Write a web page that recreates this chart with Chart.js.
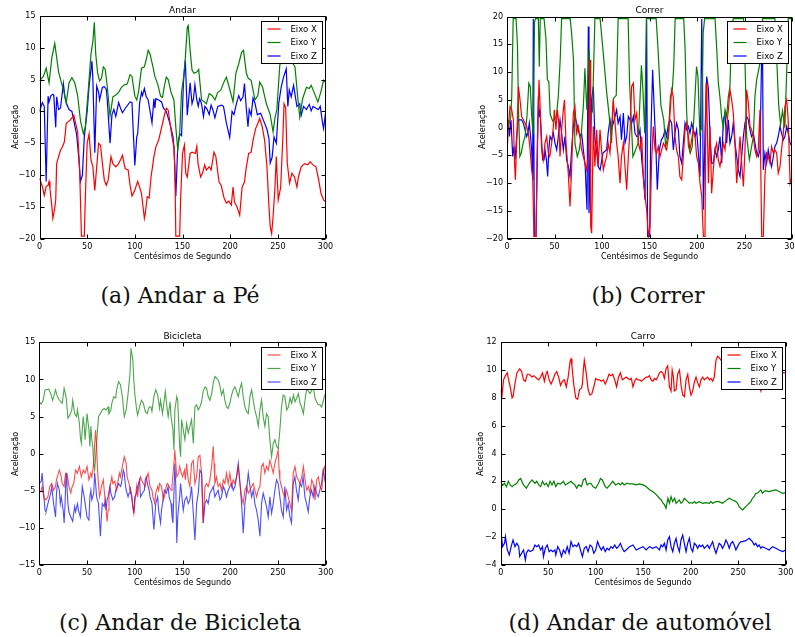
<!DOCTYPE html>
<html>
<head>
<meta charset="utf-8">
<script src="https://cdn.jsdelivr.net/npm/chart.js@4.4.1/dist/chart.umd.min.js"></script>
<style>
    body{ margin:0; width:795px; height:637px; overflow:hidden; background:#fff; position:relative; font-family:"DejaVu Sans",sans-serif; }
    canvas{ position:absolute; }
    .txt{ position:absolute; transform:translate(-50%,-50%); white-space:nowrap; color:#000; }
    .tit{ font-size:9px; }
    .eixo{ font-size:8px; }
    .rot{ font-size:8px; transform:translate(-50%,-50%) rotate(-90deg); }
    .leg{ font-family:"DejaVu Serif",serif; font-size:22px; color:#111; }
</style>
</head>
<body>
<canvas id="g_andar" width="345" height="270" style="left:0;top:0"></canvas>
<canvas id="g_correr" width="350" height="270" style="left:460px;top:0"></canvas>
<canvas id="g_bici" width="345" height="260" style="left:0;top:330px"></canvas>
<canvas id="g_carro" width="345" height="260" style="left:460px;top:330px"></canvas>

<div class="txt tit" style="left:182.5px;top:10px">Andar</div>
<div class="txt tit" style="left:649.5px;top:10px">Correr</div>
<div class="txt tit" style="left:182.5px;top:336px">Bicicleta</div>
<div class="txt tit" style="left:643px;top:336px">Carro</div>

<div class="txt eixo" style="left:182.5px;top:256px">Centésimos de Segundo</div>
<div class="txt eixo" style="left:649.5px;top:256px">Centésimos de Segundo</div>
<div class="txt eixo" style="left:182.5px;top:582px">Centésimos de Segundo</div>
<div class="txt eixo" style="left:643px;top:582px">Centésimos de Segundo</div>

<div class="txt rot" style="left:15px;top:127px">Aceleração</div>
<div class="txt rot" style="left:482px;top:127px">Aceleração</div>
<div class="txt rot" style="left:15px;top:454px">Aceleração</div>
<div class="txt rot" style="left:480px;top:454px">Aceleração</div>

<div class="txt leg" style="left:180px;top:295px">(a) Andar a Pé</div>
<div class="txt leg" style="left:648px;top:295px">(b) Correr</div>
<div class="txt leg" style="left:180px;top:622px">(c) Andar de Bicicleta</div>
<div class="txt leg" style="left:640px;top:622px">(d) Andar de automóvel</div>

<script>
// series: [centésimos, aceleração]
const nomes = ["Eixo X", "Eixo Y", "Eixo Z"];
const ticks_x = [0, 50, 100, 150, 200, 250, 300];

// ---- andar a pé
const andar_x = [[0,-10.5],[3,-11.8],[5,-13.2],[7,-11.8],[9,-11.6],[10,-11],[11,-12.2],[13,-15],[14,-16.8],[16,-15.2],[17,-13.9],[18,-8.2],[20,-7.1],[22,-6.1],[24,-5.6],[26,-4.8],[27,-3.5],[28,-1.9],[30,-1.6],[32,-1.4],[34,-1],[36,-0.6],[38,-1.9],[40,-3.2],[42,-8.7],[44,-19.6],[47,-19.6],[48,-13.9],[50,-5],[52,-3.5],[54,-7.6],[56,-8.7],[58,-12.4],[60,-8.7],[62,-5],[64,-5.3],[66,-8.2],[68,-10.8],[70,-11.6],[72,-10.8],[75,-7.1],[77,-8.2],[80,-8.7],[83,-8.2],[85,-7.6],[87,-6.9],[89,-8.4],[90,-9],[93,-9.2],[95,-11.6],[97,-13.3],[100,-12.4],[101,-11.9],[103,-11],[105,-11.9],[107,-12.9],[110,-16.8],[111,-16],[113,-13.4],[115,-13.6],[117,-10.3],[119,-8.2],[120,-7.1],[122,-5.6],[125,-4.5],[127,-3.2],[129,-1.9],[131,-0.6],[133,0.5],[135,0.2],[137,-1.9],[139,-4],[141,-5.6],[142,-8.7],[143,-19.6],[147,-19.6],[148,-13.9],[150,-6.6],[152,-5.3],[153.4,-9.7],[155,-10.3],[158,-6.6],[160,-6.4],[163.5,-6.6],[165,-5.5],[166.3,-8.2],[169,-10.3],[171,-9.7],[173.3,-8.4],[175,-9.2],[178,-8.7],[180,-9.2],[183,-6.4],[185,-7.1],[188.3,-11.1],[190.5,-11.6],[193.6,-13.6],[196,-14.4],[198.5,-14.1],[201.2,-14.7],[203,-11.9],[204.5,-14.2],[207.2,-15],[210,-16.3],[212.5,-11.9],[215,-11.1],[216.7,-9],[219.4,-6.6],[222,-6.4],[224,-4.5],[226.7,-2.7],[229,-1.9],[231,-1.1],[233.6,-2.4],[236.1,-4.5],[238.6,-8.7],[240.7,-15],[242,-18.1],[243.5,-19.2],[245,-16.6],[247,-11.9],[248.4,-7.1],[250.4,-13.9],[253,-11.9],[255.4,-3.5],[256.5,1.2],[258.2,0.6],[259.9,-8.1],[262.3,-11.3],[264.8,-9.7],[267.5,-10.3],[270,-11.9],[271.6,-10.3],[274.5,-8.7],[278,-8.2],[281.5,-8.4],[283.9,-7.9],[286.8,-8.4],[290,-8.7],[292.9,-10.8],[295.3,-12.9],[298,-13.9],[300,-14.2]];
const andar_y = [[0,4.8],[4,5.5],[7,6.8],[10,4.5],[13,8.5],[16,10.7],[18,8.5],[20,6.2],[23,4.5],[25,3.5],[28,1.3],[31,4.5],[34,5.3],[37,4.5],[40,2.5],[43,-1.5],[46,-3.5],[48,-2.5],[51,3],[54,9],[56,11],[57.5,14],[59,9],[61,6],[63,4.8],[65,5.2],[67,7],[69,6.6],[71,4],[74,-0.7],[77,2.3],[80,2.6],[83,3],[86,3.8],[89,4.2],[92,4.3],[95,5.8],[97,5.5],[100,2.4],[102,1.8],[104,3.2],[107,6.8],[110,7],[112,8.2],[114,9.6],[116,9],[119,7],[121,5.5],[124,4.3],[127,2.4],[129,2.2],[131,4],[133,5.4],[135,5],[138,3],[141,1.8],[143,-2.5],[145,-6],[147,-3.6],[149,3],[151,5.2],[153,8.5],[155,13.2],[156,13.5],[158,9.6],[160,6.5],[162,6],[165,6.2],[167,6.6],[170,1.8],[173,1.5],[175,1.2],[178,2.8],[181,2.5],[184,1.8],[187,3],[190,3.3],[194,4.8],[196,5.4],[199,3.8],[203,1.5],[206,6],[209,7.5],[212,9.3],[214,9.6],[217,6],[219,5.2],[222,4.9],[226,1.8],[229,2.5],[231,4.6],[234,3.8],[238,1.2],[242,-0.5],[245,-3.2],[247,-1],[249,0.3],[252,7.2],[255,9],[258,9.3],[262,8.5],[266,7.5],[268,7],[271,2],[273,-0.9],[276,2],[280,3.8],[283,3.6],[285,4.1],[288,3],[292,1.5],[295,3],[298,4.9],[300,4.6]];
const andar_z = [[0,0],[3,1.4],[5,0.8],[7,-11],[9,2.4],[10,1.5],[12,2.5],[14,2.7],[15,2.5],[17,-2.5],[18,2.3],[20,0.3],[22,0.5],[25,4.4],[27,2],[29,1],[31,0.3],[34,0],[36,-1.5],[39,-3.7],[41,-7],[43,-11],[45,-10],[47,-4],[50,0],[52,4],[55,7.9],[56,5],[58,-6.5],[60,4],[62,3],[63,1.8],[66,3.8],[68,3.9],[70,3.5],[71,2],[74,-5],[76,-0.5],[78,0.3],[80,-0.8],[83,1.4],[85,0.5],[87,-0.2],[90,0.5],[95,1.5],[97,1.4],[98,-2],[100,-8.5],[102,-4],[103,-3.5],[105,1.3],[107,3],[108,2.5],[110,3.6],[112,2.3],[114,1.8],[116,0],[118,-1.8],[120,2],[121,0.5],[122,2],[125,1.8],[128,1.5],[130,0.5],[133,0],[135,-1],[137,-2],[140,-4],[141,-5.5],[143,-13.3],[145,-5.5],[147,-3.5],[149,-3.8],[151,4.6],[153,8],[155,-0.6],[158,4.5],[160,1.2],[161.5,2],[163,4.2],[165,1.8],[166.5,0.8],[168,2],[170,1.2],[172,-0.8],[173.5,0.8],[176,0.3],[178,-0.5],[180,1],[182,0.2],[184,-1],[187,0.8],[191,1],[193,0.8],[196,-1.8],[199.5,-4.1],[202,0],[204,-0.5],[206.5,1.2],[209,2.5],[211,1.7],[213.5,2.3],[215,4.4],[217,0.3],[218.7,-2.4],[220,0.3],[222,-0.6],[224,2.1],[226,1.3],[228.5,-0.5],[232,-0.3],[236,-1.8],[238.6,-2.8],[240.7,-4.3],[242,-8.1],[244,-7.2],[246,-4],[248.4,-5],[251,1.3],[253.6,3.9],[256,5.4],[258.8,6.7],[260.5,0.8],[262,3.4],[264,2.3],[266.5,4.1],[270,0.8],[273,1.2],[274.5,-0.6],[277,0.8],[280,0.3],[283,1.1],[285,0.1],[287,0.8],[290,0.5],[292.5,0.3],[294.5,0.8],[297,-1.9],[298,-2.7],[300,-0.2]];

// ---- correr
const correr_x = [[0,-4.6],[1.4,0.2],[3.2,3.8],[5,3.2],[6.7,1.4],[7.7,-5.2],[8.8,-9.4],[10.2,-2.8],[12,7.4],[13.7,5],[15.4,2],[17.2,1.4],[19,0.8],[20.7,0.2],[22.5,-1],[24,-3.4],[26,-7.6],[27,-8.8],[28.4,-19.6],[30.5,-19.6],[32,-2.8],[33.7,8.6],[35,3.2],[36.5,-4],[38.2,-5.8],[40,-2.8],[41.8,-1.6],[43.5,-4.6],[45,-5.2],[47,-2.8],[48.8,0.2],[49.8,3.2],[51.5,-0.4],[53,3.2],[54.5,0.8],[55.8,-5.2],[57.5,-0.4],[59.3,3.2],[60.5,5],[62.1,-2.8],[64.5,-8.2],[66.3,-14.2],[68,-7.6],[69.8,2.6],[71.5,3.8],[73.3,-1],[75,0.2],[76.8,-1.6],[78.5,-4],[80.4,-5.2],[83.8,-7.6],[85.5,-5.2],[87.4,12.2],[88.1,-17.8],[89.1,-19],[90,-8.8],[90.9,0.2],[92.5,-7],[94.4,-0.4],[96,-7],[97.9,-0.4],[99.5,-4],[101.4,-7.6],[103,-6.4],[104.9,-5.2],[106.5,-2.8],[108.4,-4.6],[110,-0.4],[111.9,5],[113.5,1.4],[115.4,-2.8],[117,-5.2],[119,-10],[120.5,-5.2],[122.5,-2.8],[124.2,-7],[126,-11.2],[127.7,-5.2],[129.5,-0.4],[131.2,7.4],[133,8],[134.7,1.4],[136.5,2.6],[138.2,-2.8],[140,-4],[141.8,-1.6],[143.5,-8.8],[145.3,-12.4],[147,-14.8],[148.8,-19.6],[150.5,-17.8],[152.3,-5.8],[154,0.2],[155.8,-4],[157.5,-4.6],[159.3,-3.4],[161,-5.2],[164.6,-2.8],[168,-4],[170,-1.6],[171.6,2.6],[173.3,6.8],[175,5.6],[176.8,-1.6],[178.5,-4],[180.4,-5.2],[182,-8.8],[183.9,-9.4],[185.6,-5.2],[187.4,-0.4],[189,0.8],[190.9,-1.6],[192.6,-4],[196.1,-0.4],[198,-1.6],[199.6,-5.2],[201.4,-6.4],[203.2,-10],[205,-12.4],[206.7,-19.6],[208.4,-19.6],[209.5,8],[210.5,3.2],[212,-10],[213.7,0.2],[215.4,-11.8],[217.2,-7.6],[218.9,-4],[220.7,-2.8],[222.4,-5.8],[224.2,-7],[226,-5.2],[227.7,-2.8],[229.5,-4],[231.2,0.2],[233,3.2],[234.7,6.8],[236.5,5],[238.2,2.6],[240,-2.8],[241.8,-10],[243.5,-6.4],[245.3,-1.6],[247,-6.4],[248.8,-10.6],[250.5,-4],[252.3,6.8],[254,4.4],[255.8,0.2],[257.5,-0.4],[259.3,-1.6],[261,-4],[262.8,-5.2],[264.5,-4],[266.3,3.2],[268.1,-19.6],[269.8,-19.6],[271.5,-8.8],[273.3,-4.6],[275,-5.2],[276.8,-6.4],[278.5,-3.4],[280.4,-4.6],[282,-4],[283.9,-4.6],[285.5,-8.2],[287.4,-7],[289,-4],[290.9,-1],[292.5,3.8],[294.4,5],[296,1.4],[298,-10],[300,-8.8]];
const correr_y = [[0,-1],[2,0.5],[4,2],[5,5.6],[6.5,19.6],[9.5,19.6],[11,15],[12,4],[13.5,-5.2],[15,-4.6],[17,-2.8],[19,-1.6],[21,2],[23,8],[24.5,7.4],[26,2],[27.5,-1.2],[29,19],[30,19.6],[33,19.6],[34,11],[35,19.6],[39,19.6],[41,16],[42.5,8.6],[44,8.3],[45.5,2.4],[48,1.2],[50,1.5],[52,2],[54,5.6],[56,12.2],[57.5,19.6],[66.5,19.6],[68,17],[70,12.2],[71.5,-2.8],[74,-5.2],[76,-4],[78,-1.6],[80.5,4.2],[82,10.7],[84,3.2],[86.5,14],[88,2],[90,3],[92.5,19.6],[98,19.6],[101,14],[105,6.2],[108,1.4],[110,-2.8],[112,5.2],[115,5.8],[117,19.6],[127.5,19.6],[129,8.2],[132.5,-5.2],[134,-4.6],[138,-2.8],[141.5,11.2],[143,7],[145,-1],[146.7,19.6],[157,19.6],[159,14],[162,4],[165,1.4],[167,-3.4],[170,-1],[172,5.6],[174,6.8],[175.5,11],[177,19.6],[186,19.6],[187.5,14],[189,3.2],[191,-3.4],[193,-4.6],[195,-3.4],[197,2.6],[199.5,11],[201,9.2],[203,-1],[205,0],[206.5,17],[208,19.6],[219,19.6],[221,13.4],[222.5,8],[224.2,5.4],[226,1.8],[227.7,0],[229.5,3.2],[231.2,2],[233,5.6],[234.7,7.4],[236.5,18.2],[238.2,19.6],[249,19.6],[250.5,12.2],[252.3,-1.6],[255.1,-5.8],[257.5,-3.4],[259.3,-1.6],[261,5.6],[262.8,8.6],[266.3,11.6],[269,19.6],[282,19.6],[284,12],[286,4],[288,0.6],[290,3],[292.5,0],[294.4,10],[296,19.6],[300,19.6]];
const correr_z = [[0,-0.4],[1.2,1.4],[2.5,-1.6],[4.2,1.4],[6,-5.2],[7.2,-3.4],[8.4,-5.8],[10.2,-1.6],[12,1.4],[15.4,1.4],[17.2,0.8],[19,-0.4],[20.7,-1.6],[22,-1],[23.5,0.8],[24.8,-1.6],[26,-4],[27,-9.4],[27.7,19.6],[28.8,-19.6],[30.5,-19.6],[32,-4],[33,5.6],[34,2],[34.7,3.2],[36,-1],[37.5,-5.8],[39,-5.8],[40,-4],[41.5,-5.8],[42.8,-8.8],[44,-4],[45.3,-1.6],[47,-2.2],[48.8,-1],[50.5,-2.8],[52.3,-4],[54,-1.6],[55.8,1.4],[57.5,-1],[59.3,-4],[61,-1.6],[62.8,-5.8],[64.5,-7],[66.3,-8.8],[68,-4],[69.8,0.2],[71.5,2],[73.3,0.8],[75,-0.4],[76.8,-1.6],[78.5,-1],[80.4,-4],[82.3,-7],[84.2,-14.8],[85.6,18.2],[86.3,-15.4],[87.5,-8],[89,5],[90.9,7.4],[92.5,-2],[94.2,-4],[96,-7],[98,-7.6],[101,-4.6],[104.9,-4],[106.5,-1],[108.4,1.4],[110,-0.4],[111.9,0.8],[113.7,2],[115.4,3.2],[117,0.8],[119,2],[120.5,-2.2],[122.5,2.6],[124.2,-2.8],[126,-1.6],[127.7,2],[129.5,1.4],[131.2,0.8],[133,2],[134.7,-1],[136.5,-1.6],[138.2,-1.6],[140,-0.4],[141.8,-5.8],[143.5,-8.8],[145.3,-13],[147,19.4],[148,-19.6],[150.2,-19.6],[151.2,-2.8],[153.3,10.4],[155,3.2],[156.8,-4],[158.2,-11.2],[160.4,-4],[162.5,-2.2],[164.6,-1.6],[166.3,-0.4],[168,-1.6],[169.8,0.5],[171.6,1.4],[173.3,0.8],[175.1,-4],[176.8,-1],[178.5,0.8],[180.4,-0.4],[182,-5.2],[183.9,-6.4],[185.6,-2.8],[187.4,0.8],[189,-0.4],[190.9,0.2],[192.6,-1],[194.4,0.8],[196.1,-0.4],[198,-1.6],[199.6,-0.4],[201.4,-4.6],[203.2,-8.8],[205,19.6],[205.8,9],[206.7,-14.8],[208.4,-1],[210.2,9.2],[212,7],[213.7,-1.6],[215.4,-6.4],[217.2,-6.4],[218.9,-4],[220.7,-5.2],[222.4,-4],[224.2,-1.6],[226,-6.4],[227.7,1.4],[229.5,2.6],[231.2,-2.8],[233,1.4],[234.7,-2.8],[236.5,-1.6],[238.2,0.8],[240,-2.8],[241.8,-5.2],[243.5,-7.6],[245.3,-8.8],[247,-5.2],[248.8,-1.6],[250.5,0.8],[252.3,2],[254,1.4],[255.8,-0.4],[257.5,-1.6],[259.3,-1],[261,-2.8],[262.8,-4.6],[264.5,-5.2],[266.3,-4],[268.1,13.4],[269,13.4],[269.8,-7.6],[271.5,-4.6],[273.3,-6.4],[275,-4],[276.8,-5.8],[278.5,-7],[280.4,-5.2],[282,-3.4],[283.9,-2.8],[285.5,-1.6],[287.4,0.2],[289,-1],[290.9,-2.2],[292.5,-1.6],[294.4,0.2],[296,-1],[298,-2.8],[300,-3.4]];

// ---- bicicleta
const bici_x = [[0,-5.3],[2,-4.9],[3,-4.4],[5,-6],[7,-6.2],[9,-5.8],[11,-4.4],[13,-4],[15,-4.9],[17,-4.4],[18,-3.5],[20,-2.6],[21,-2.2],[23,-3.1],[24,-4],[26,-4.4],[27,-3.1],[28,-2.6],[30,-3.3],[31,-4.4],[33,-5.3],[34,-4.6],[36,-4],[37,-3.1],[38,-2.2],[40,-2.6],[42,-1.7],[44,-3.1],[46,-2.2],[48,-2.6],[50,-1.7],[52,-3.5],[54,-2.6],[55,-3.1],[57,-1.3],[58,1.4],[59,3.2],[60,1],[61,-2.2],[62,-4],[63,-5.8],[64,-5.3],[65,-4.4],[67,-3.5],[68,-4.9],[70,-7.6],[71,-9.1],[72,-7.6],[73,-5.8],[74,-4.4],[76,-3.1],[77,-4],[79,-3.7],[81,-4.9],[82,-4],[84,-2.6],[85,-3.1],[87,-1.7],[89,-0.4],[91,-1.3],[92,-3.1],[94,-4],[96,-5.3],[97,-6.2],[99,-8],[100,-6.7],[102,-4.4],[103,-5.8],[104,-4.4],[106,-3.1],[107,-3.5],[109,-4],[111,-4.4],[112,-3.5],[114,-2.6],[115,-3.5],[116,-4.4],[118,-4.9],[119,-5.8],[121,-6.7],[122,-5.3],[124,-4.4],[125,-4.9],[126,-4],[128,-4.4],[129,-5.3],[130,-6.2],[131,-5.8],[133,-4.4],[134,-4],[136,-4.4],[138,-4.9],[139,-4.4],[141,-1.3],[142,0.5],[143,-1.3],[144,-3.1],[146,-2.6],[147,-1.7],[148,-2.2],[150,-3.1],[152,-2.2],[153,-3.5],[154.3,-1.3],[156,-3.5],[157.7,-4.4],[159.5,-1.3],[161.3,-0.9],[163,-4],[164.8,-3.1],[166.5,-0.4],[168.2,-0.2],[170,-2.6],[171.7,-9.3],[173.5,-4.4],[175.2,-4],[176.9,-4.4],[178.7,-3.5],[180.5,-1.7],[182.2,1],[183,-1.3],[183.9,-4],[185.6,-3.1],[187.4,-4.4],[189.2,-4],[190.9,-4.9],[192.7,-3.5],[194.4,-4],[196.1,-2.6],[197.9,-4],[199.6,-2.6],[201.4,-4.4],[203.1,-3.5],[204.9,-4],[206.6,-3.1],[208.4,-1.7],[210.2,-4],[211.9,-5.8],[213.6,-6.7],[215.4,-4.9],[217.1,-4.4],[218.9,-5.3],[220.7,-4.9],[222.4,-4.4],[224.1,-4],[225.8,-4.9],[227.6,-5.8],[229.3,-4.9],[231.1,-4.4],[232.8,-1.7],[234.5,-1.3],[236.3,-2.6],[238,-1.7],[239.8,-2.2],[241.5,-0.9],[243.3,-1.7],[245,-2.6],[246.8,-1.3],[248.5,-0.4],[250.2,0.5],[251.2,-2.2],[252,-3.5],[253.7,-4.4],[255.5,-5.3],[257.2,-5.8],[259,-4.9],[260.7,-5.8],[262.5,-6.7],[264.2,-7.6],[266,-2.6],[267.8,-1.7],[269.6,-3.1],[271.3,-3.5],[273.1,-4],[274.9,-3.1],[276.6,-1.7],[278.4,-3.5],[280.1,-4.9],[281.9,-4.4],[283.6,-5.3],[285.3,-3.5],[287,-4],[288.8,-6.2],[290.6,-3.5],[292.3,-3.1],[294,-4.4],[295.8,-4.9],[297.6,-2.2],[299,-1.7],[300,-4]];
const bici_y = [[0,7],[2,6.7],[4,7.2],[6,8.6],[10,8.7],[12,8.1],[14,7.2],[17,8.6],[19,7.7],[21,7.2],[24,6.8],[26,8.8],[28,7.7],[30,4.8],[32,5.2],[34,5.9],[35,7.2],[37,5.4],[39,5],[40,5.9],[42,4.1],[43,2.3],[44,1.4],[46,5],[47,3.7],[48,1.9],[50,5.4],[52,3.2],[53,1],[54,3.7],[55,1.9],[56,1],[57,-1.3],[58,-2.2],[59,-0.4],[60,1.4],[62,5],[63,5.2],[66,5.9],[68,6.1],[70,5.9],[72,6.3],[73,5.4],[75,5.9],[76,6.8],[78,7.7],[80,7.5],[81,8.6],[83,9.7],[85,9.3],[87,7.7],[88,6.3],[89,5],[91,5.9],[93,8.1],[95,10.8],[96,14.2],[98,12.6],[99,9.9],[100,8.1],[102,5.9],[103,5.2],[105,6.3],[107,7.2],[109,6.8],[111,5.7],[113,5.4],[115,6.3],[117,6.3],[118,5.7],[120,7.7],[122,8.6],[124,7.9],[126,6.1],[127,7.2],[129,5.4],[130,6.3],[132,8.4],[134,5.9],[135,5],[137,7],[138,5],[140,3.2],[141,0.5],[142,5.9],[144,7.7],[145,7.2],[146,4.1],[147,1],[148,-0.4],[149,4.6],[150.8,3.2],[152.5,1.9],[154.3,4.1],[156,2.8],[157.7,3.7],[159.5,4.6],[161.3,1.4],[163,6.3],[164.8,6.6],[166.5,5.9],[168.2,6.3],[170,7],[171.7,8.4],[173.5,9],[175.2,8.8],[176.9,7.7],[178.7,7.2],[180.5,8.1],[182.2,9.5],[183.9,10.4],[185.6,10.2],[187.4,9.9],[189,9.3],[190.9,7.9],[192.7,8.6],[194.4,7.2],[196.1,6.3],[197.9,6.1],[199.6,6.8],[201.4,7.9],[203.1,8.6],[204.9,9],[206.6,8.4],[208.4,7.7],[210.2,8.8],[211.9,9.5],[213.6,7.7],[215.4,6.3],[217.1,5.7],[218.9,5.4],[220.7,7.7],[222.4,8.6],[224.1,7.2],[225.8,5.9],[227.6,5],[229.3,3.7],[231.1,5.9],[232.8,7.2],[234.5,5],[236.3,3.7],[238,5.4],[239.8,5],[241.5,1.9],[243.3,-0.4],[245,1.4],[246.8,1.9],[248.5,1],[250.2,0.7],[252,3.2],[253.7,6.3],[255.5,7.9],[257.2,7.7],[259.2,5.9],[260.9,6.3],[262.7,7.5],[264.4,6.8],[266.2,7.9],[267.9,7],[269.6,7.5],[271.4,8.1],[273.1,6.8],[274.8,6.3],[276.6,5.4],[278.3,7.2],[280.1,8.8],[281.9,8.4],[283.6,8.1],[285.3,8.5],[287,9],[288.8,7.5],[290.4,7],[292.1,6.6],[294,6.6],[295.6,6.3],[297.3,7],[299,7.9],[300,7.8]];
const bici_z = [[0,-4],[2,-3.7],[3,-2.6],[4,-4.4],[6,-7.6],[7,-7.8],[9,-6.7],[10,-6.2],[12,-5.3],[13,-4.4],[15,-6.7],[17,-8.5],[18,-5.3],[19,-4],[21,-4.9],[22,-6.7],[23,-5.8],[25,-7.6],[26,-9.3],[27,-6.7],[28,-2.6],[29,-4.4],[30,-6.7],[31,-7.8],[33,-8.5],[35,-9.1],[36,-8],[37,-7.1],[38,-7.8],[40,-6.7],[41,-7.6],[43,-8.5],[45,-4.4],[47,-5.8],[48,-6.7],[50,-8.5],[52,-8.9],[53,-5.8],[54,-4.9],[55,-6.2],[57,-5.3],[58,-2.6],[59,-4],[60,-5.8],[62,-6.7],[64,-11.1],[65,-8.5],[66,-6.7],[68,-7.1],[69,-6.2],[70,-7.6],[71,-6.2],[72,-5.8],[74,-4.4],[75,-5.3],[77,-6.2],[79,-5.8],[80,-4.9],[82,-4.4],[83,-4],[85,-4.4],[86,-4],[88,-2.2],[89,-2.6],[90,-4],[91,-4.9],[93,-5.8],[94,-5.3],[95,-4.4],[97,-5.8],[98,-7.1],[99,-8],[100,-5.8],[102,-5.3],[103,-4.4],[105,-3.5],[106,-5.8],[108,-5.3],[110,-4.9],[111,-3.5],[112,-3.1],[114,-4.4],[115,-4.9],[116,-5.8],[118,-6.7],[120,-10.2],[121,-8.5],[122,-6.7],[124,-5.8],[125,-7.6],[127,-9.3],[128,-7.6],[130,-5.8],[131,-4.9],[133,-5.3],[135,-4.4],[136,-5.8],[138,-6.7],[139,-8.5],[140,-9.3],[141,-5.3],[142,-1.3],[143,-4.4],[144,-12],[145,-8.5],[147,-5.8],[148,-4],[150.8,-7.6],[152.5,-6.2],[154.3,-5.8],[156,-6.7],[157.7,-6.2],[159.5,-4.4],[161.3,-8],[163,-11.6],[164.8,-6.7],[166.5,-5.3],[168.2,-2.2],[170,-2.6],[171.7,-9.3],[173.5,-6.7],[175.2,-6.2],[176.9,-6.7],[178.7,-5.3],[180.5,-4.9],[182.2,-4.4],[183.9,-5.8],[185.6,-5.3],[187.4,-4.9],[189.2,-6.2],[190.9,-5.8],[192.7,-4.4],[194.4,-4.9],[196.1,-5.8],[197.9,-4.9],[199.6,-4.4],[201.4,-4],[203.1,-4.9],[204.9,-4.4],[206.6,-3.1],[208.4,-1.3],[210.2,-4],[211.9,-6.7],[213.6,-10.7],[215.4,-6.7],[217.1,-4.9],[218.9,-2.6],[220.7,-4.4],[222.4,-5.8],[224.1,-4.9],[225.8,-6.7],[227.6,-7.6],[229.3,-8.9],[231.1,-11.1],[232.8,-6.7],[234.5,-5.3],[236.3,-6.2],[238,-7.1],[239.8,-8.5],[241.5,-5.8],[243.3,-8],[245,-6.7],[246.8,-4.9],[248.5,-3.5],[250.2,-4],[252,-5.8],[253.7,-7.6],[255.5,-8.5],[257.2,-4.4],[259,-7.6],[260.7,-6.7],[262.5,-8.5],[264.2,-9.3],[266,-4],[267.7,-3.1],[269.4,-4.9],[271.2,-6.2],[272.9,-4],[274.7,-4.4],[276.4,-3.1],[278.2,-5.8],[279.9,-6.7],[281.7,-7.8],[283.4,-5.8],[285.2,-4.9],[286.9,-5.8],[288.7,-4.4],[290.4,-5.3],[292.1,-5.8],[293.9,-4.9],[295.6,-4],[297.3,-2.2],[299,-3.5],[300,-4]];

// ---- carro
const carro_x = [[0,8.6],[1,7.9],[3,9.3],[5,9.6],[7,9.8],[8,9.4],[10,8.8],[12,8],[13,8.1],[15,9],[17,9.8],[20,10.1],[22,9.9],[24,9.3],[26,9.2],[28,9.7],[30,9.7],[33,9.5],[35,9.6],[38,9.4],[40,9.3],[42,9.5],[44,9.8],[46,9.2],[48,9.8],[49,9.9],[51,9.3],[53,9],[55,9.3],[57,9.7],[59,9.9],[61,9.5],[63,8.9],[65,9.2],[67,9.3],[69,8.8],[71,9.5],[73,10.6],[74,10.8],[75,10.3],[77,8.9],[79,8],[81,7.9],[83,8.6],[85,8.7],[86,9],[87,10],[88,10.7],[90,9.8],[92,8.6],[94,8.2],[96,8.3],[98,8.8],[100,9.4],[102,9.3],[104,9.3],[106,9.2],[108,9.3],[110,9],[112,9.3],[114,9.7],[116,9.6],[118,9.7],[120,9.3],[122,8.8],[124,9.5],[126,9.8],[128,9.3],[130,9.4],[132,9.5],[134,9.4],[135.7,9.3],[137.5,9.4],[139.2,8.8],[141,9.2],[142.7,9.4],[144.4,9.3],[146.2,9.3],[148,9.2],[149.7,9.3],[151.4,9.4],[153.1,9.5],[154.9,9.5],[156.6,9.6],[158.3,9.3],[160.1,9.2],[161.8,9.4],[163.6,9.3],[165.3,9.5],[167.1,9.8],[168.8,9.9],[170.6,9.8],[172.3,9.4],[174.1,10.1],[175.8,10.3],[177.6,8.8],[179.3,8.5],[180.5,10],[181.8,9.5],[182.8,8.5],[184.6,8.6],[186.3,9.7],[188.2,10],[189.9,8.9],[191.6,8.2],[193.4,8.1],[195.1,9.3],[196.9,9.7],[198.6,8.8],[200.3,8.2],[202.1,8.5],[203.8,9.1],[205.6,9.5],[207.3,9.1],[209.1,8.8],[210.8,9.3],[212.6,9.5],[214.3,9.3],[216.1,9.4],[217.8,9.5],[219.6,9.3],[221.3,9.4],[223.1,9.2],[224.8,9.5],[226.6,10.7],[228.3,11],[230,10.9],[232,10.7],[236,10.8],[240,10.2],[245,9.8],[250,10.3],[255,9.9],[260,10.2],[265,9.6],[270,9.4],[273.9,8.5],[276,9.2],[280,9.6],[285,9.8],[290,9.5],[295,9.9],[298,9.8],[300,9.8]];
const carro_y = [[0,2],[2,1.7],[4,1.86],[6,1.6],[8,2],[10,1.74],[12,1.62],[14,1.74],[17,1.86],[19,2.1],[21,2.2],[24,1.74],[27,1.5],[30,1.86],[33,2.1],[36,1.86],[38,2],[40,1.74],[42,1.62],[44,2],[46,1.74],[48,1.86],[50,1.62],[52,2],[54,1.74],[56,2],[58,1.62],[60,1.86],[63,1.8],[66,2],[68,1.74],[71,1.86],[74,2],[76,1.86],[78,1.74],[80,1.5],[82,1.74],[85,1.62],[87,2.1],[89,2.2],[91,1.74],[93,1.86],[95,1.86],[97,1.62],[100,1.5],[103,1.86],[105,2.2],[107,2.1],[110,1.62],[112,1.5],[115,1.74],[118,2],[121,1.74],[124,1.86],[126,1.74],[128,1.9],[130,1.74],[133,1.86],[135,1.81],[139,1.81],[142.5,1.74],[146,1.81],[150,1.74],[153,1.62],[157,1.38],[160,1.26],[164,1.02],[167,0.78],[169,0.66],[171,0.42],[172.5,0.3],[174,0.06],[176,0.78],[177.6,0.42],[179.3,0.9],[181,0.54],[183,0.78],[184.6,0.42],[186.3,0.54],[188,0.66],[189.9,0.42],[191.6,0.54],[193.4,0.78],[195,0.66],[197,0.54],[198.6,0.42],[200.3,0.47],[202,0.42],[204,0.54],[205.6,0.42],[209,0.54],[212.6,0.42],[216,0.47],[219.6,0.42],[221.3,0.54],[223,0.42],[226.6,0.54],[230,0.54],[233.5,0.42],[237,0.61],[240.6,0.78],[244,0.66],[247.6,0.54],[249.3,0.42],[251,0.18],[252.8,0.06],[254.5,-0.06],[256.3,0.06],[258,0.18],[259.8,0.3],[261.5,0.42],[263.3,0.54],[265,0.78],[266.8,0.9],[268.5,1.14],[270.3,1.14],[272,1.26],[273.8,1.38],[275.5,1.14],[277.3,1.26],[279,1.33],[282.5,1.26],[286,1.33],[289.7,1.38],[293,1.26],[296.8,1.14],[300,1.18]];
const carro_z = [[0,-1.98],[1,-2.1],[2,-2.7],[4,-2.46],[5,-1.98],[7,-2.94],[9,-3.3],[11,-2.7],[13,-2.22],[15,-2.7],[17,-2.46],[19,-2.7],[20,-3.42],[22,-3.18],[24,-2.94],[26,-3.66],[27,-3.18],[29,-2.94],[31,-3.06],[34,-2.94],[36,-2.58],[38,-2.7],[40,-2.58],[42,-2.94],[44,-2.7],[45,-3.42],[47,-2.82],[49,-2.58],[51,-3.06],[53,-2.94],[55,-3.06],[57,-2.94],[58,-3.3],[60,-2.7],[62,-2.94],[64,-3.42],[66,-2.94],[68,-3.18],[70,-2.7],[72,-3.18],[74,-2.34],[76,-2.7],[78,-2.58],[80,-2.7],[82,-2.46],[84,-2.94],[86,-3.42],[88,-2.82],[90,-2.7],[92,-3.06],[94,-2.58],[96,-2.7],[98,-3.18],[100,-2.94],[102,-2.34],[104,-2.7],[106,-2.94],[108,-2.7],[110,-3.06],[112,-2.82],[114,-2.94],[116,-2.7],[118,-2.82],[120,-2.58],[122,-2.82],[124,-2.7],[126,-2.46],[128,-2.82],[130,-3.06],[132,-2.94],[135.7,-2.7],[139.2,-2.58],[142.7,-2.94],[146.2,-2.82],[149.7,-2.7],[153.1,-2.94],[156.6,-2.7],[160.1,-2.82],[163.6,-2.7],[167.1,-2.94],[168.8,-2.58],[170.6,-2.7],[172.3,-2.46],[174.1,-2.94],[175.8,-2.22],[177.6,-1.98],[179.3,-2.7],[181.1,-3.06],[182.8,-2.46],[184.6,-2.1],[186.3,-2.7],[188.1,-3.06],[189.8,-2.22],[191.6,-1.86],[193.3,-2.46],[195.1,-3.06],[196.8,-2.46],[198.6,-2.1],[200.3,-2.82],[202.1,-3.06],[203.8,-2.46],[205.6,-2.58],[207.3,-2.82],[209.1,-2.58],[210.8,-2.7],[212.6,-2.58],[214.3,-2.82],[216.1,-2.7],[217.8,-2.58],[219.6,-2.82],[221.3,-2.58],[223.1,-2.34],[224.8,-2.82],[226.6,-3.18],[228.3,-2.82],[230,-2.46],[231.8,-2.58],[233.5,-2.82],[235.3,-2.58],[237,-2.22],[238.8,-2.46],[240.6,-2.82],[242.3,-2.46],[244.1,-2.34],[245.8,-2.58],[247.6,-2.94],[249.3,-2.7],[251.1,-2.46],[252.8,-2.34],[254.5,-2.34],[258,-2.27],[261.5,-2.1],[263.3,-2.22],[265,-2.34],[266.8,-2.58],[268.5,-2.46],[270.3,-2.7],[272,-2.58],[273.8,-2.82],[275.5,-2.7],[279,-2.82],[282.5,-2.94],[286,-2.7],[289.7,-2.82],[293,-2.94],[296.8,-3.06],[300,-2.94]];

// caixa preta com ticks para dentro, estilo matplotlib
const moldura = {
    id: 'moldura',
    afterDatasetsDraw(chart){
        let ctx = chart.ctx;
        let a = chart.chartArea;
        let l = Math.round(a.left) + 0.5, r = Math.round(a.right) - 0.5;
        let t = Math.round(a.top) + 0.5, b = Math.round(a.bottom) - 0.5;
        ctx.save();
        ctx.strokeStyle = '#000';
        ctx.lineWidth = 1;
        ctx.strokeRect(l, t, r - l, b - t);
        ctx.beginPath();
        chart.scales.x.ticks.forEach(tk => {
            let px = Math.round(chart.scales.x.getPixelForValue(tk.value)) + 0.5;
            ctx.moveTo(px, b); ctx.lineTo(px, b - 4);
            ctx.moveTo(px, t); ctx.lineTo(px, t + 4);
        });
        chart.scales.y.ticks.forEach(tk => {
            let py = Math.round(chart.scales.y.getPixelForValue(tk.value)) + 0.5;
            ctx.moveTo(l, py); ctx.lineTo(l + 4, py);
            ctx.moveTo(r, py); ctx.lineTo(r - 4, py);
        });
        ctx.stroke();
        ctx.restore();
    }
};

const legenda = {
    id: 'legenda',
    afterDraw(chart){
        let ctx = chart.ctx;
        let a = chart.chartArea;
        let w = 61, h = 42;
        let x0 = Math.round(a.right - 4 - w) + 0.5;
        let y0 = Math.round(a.top + 4.5) + 0.5;
        ctx.save();
        ctx.fillStyle = '#fff';
        ctx.fillRect(x0, y0, w, h);
        ctx.strokeStyle = '#000';
        ctx.lineWidth = 1;
        ctx.strokeRect(x0, y0, w, h);
        ctx.font = '8.5px "DejaVu Sans"';
        ctx.textBaseline = 'middle';
        chart.data.datasets.forEach((ds, i) => {
            let y = y0 + 7.5 + i * 13.5;
            ctx.strokeStyle = ds.borderColor;
            ctx.lineWidth = 1.2;
            ctx.beginPath();
            ctx.moveTo(x0 + 6, y);
            ctx.lineTo(x0 + 19, y);
            ctx.stroke();
            ctx.fillStyle = '#000';
            ctx.fillText(ds.label, x0 + 29, y + 0.5);
        });
        ctx.restore();
    }
};

function pts(serie){
    return serie.map(p => ({x: p[0], y: p[1]}));
}

function grafico(id, series, cores, ymin, ymax, passo, caixa){
    let ctx = document.getElementById(id).getContext('2d');
    return new Chart(ctx, {
        type: 'line',
        data: {
            datasets: series.map((s, i) => ({
                label: nomes[i],
                data: pts(s),
                borderColor: cores[i],
                borderWidth: caixa.lw,
                pointRadius: 0,
                tension: 0
            }))
        },
        options: {
            responsive: false,
            animation: false,
            devicePixelRatio: 1,
            events: [],
            layout: {
                padding: { left: 0, top: caixa.top, right: caixa.right, bottom: 0 }
            },
            plugins: {
                legend: { display: false },
                title: { display: false },
                tooltip: { enabled: false }
            },
            scales: {
                x: {
                    type: 'linear',
                    min: 0,
                    max: 300,
                    afterBuildTicks: s => { s.ticks = ticks_x.map(v => ({value: v})); },
                    grid: { display: false, drawTicks: false },
                    border: { display: false },
                    ticks: { color: '#000', padding: 3, font: { family: 'DejaVu Sans', size: 8 }, maxRotation: 0 },
                    afterFit: s => { s.height = caixa.baixo; }
                },
                y: {
                    min: ymin,
                    max: ymax,
                    grid: { display: false, drawTicks: false },
                    border: { display: false },
                    ticks: {
                        stepSize: passo,
                        color: '#000',
                        padding: 4,
                        font: { family: 'DejaVu Sans', size: 8 },
                        callback: v => String(v).replace('-', '\u2212')
                    },
                    afterFit: s => { s.width = caixa.esq; }
                }
            }
        },
        plugins: [moldura, legenda]
    });
}

const cores = ['#ff0000', '#008000', '#0000ff'];
const cores_bici = ['rgba(255,0,0,0.7)', 'rgba(0,128,0,0.7)', 'rgba(0,0,255,0.7)'];

grafico('g_andar', [andar_x, andar_y, andar_z], cores, -20, 15, 5,
    {esq: 39.5, top: 16, right: 19.5, baixo: 31.3, lw: 1.2});
grafico('g_correr', [correr_x, correr_y, correr_z], cores, -20, 20, 5,
    {esq: 47, top: 16.5, right: 18, baixo: 31.3, lw: 1.2});
grafico('g_bici', [bici_x, bici_y, bici_z], cores_bici, -15, 15, 5,
    {esq: 39.3, top: 12.3, right: 19.3, baixo: 24.7, lw: 1.1});
grafico('g_carro', [carro_x, carro_y, carro_z], cores, -4, 12, 2,
    {esq: 40.7, top: 12.3, right: 19.3, baixo: 25.3, lw: 1.2});
</script>
</body>
</html>
